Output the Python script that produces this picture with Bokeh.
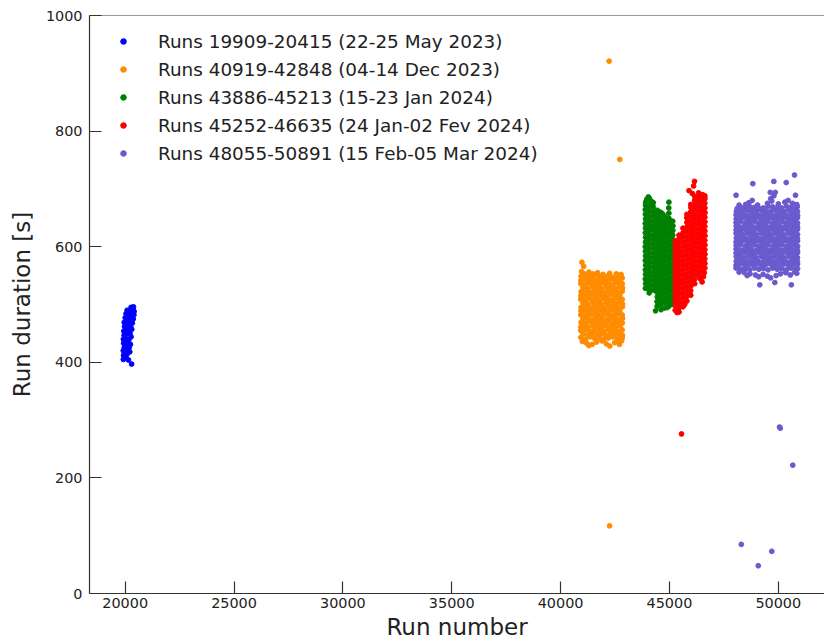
from bokeh.plotting import figure
from bokeh.models import Span, Legend, LegendItem
from bokeh.embed import file_html
from bokeh.resources import INLINE

SERIES_LABELS = [
    "Runs 19909-20415 (22-25 May 2023)",
    "Runs 40919-42848 (04-14 Dec 2023)",
    "Runs 43886-45213 (15-23 Jan 2024)",
    "Runs 45252-46635 (24 Jan-02 Fev 2024)",
    "Runs 48055-50891 (15 Feb-05 Mar 2024)",
]
SERIES_COLORS = ["#0000ff", "#ff8c00", "#008000", "#ff0000", "#6a5acd"]
X_TICKS = [20000, 25000, 30000, 35000, 40000, 45000, 50000]
Y_TICKS = [0, 200, 400, 600, 800, 1000]

# (run number, run duration [s])
BLUE = [
    (19915, 405), (20040, 408), (20150, 404), (19925, 412), (20080, 414), (19990, 417),
    (19912, 420), (20130, 421), (20210, 418), (19960, 426), (20060, 428), (20180, 425),
    (19930, 433), (20110, 435), (20240, 431), (19918, 440), (20010, 441), (20170, 439),
    (20270, 444), (19950, 447), (20080, 449), (20220, 450), (19935, 454), (20040, 456),
    (20150, 455), (20300, 457), (19970, 462), (20100, 463), (20250, 462), (19955, 469),
    (20060, 470), (20190, 471), (20330, 468), (20000, 477), (20130, 476), (20280, 478),
    (20370, 475), (20040, 484), (20170, 483), (20310, 485), (20400, 482), (20090, 490),
    (20230, 489), (20360, 491), (20410, 488), (20270, 495), (20380, 496), (20340, 493),
    (20295, 397),
]

ORANGE = [
    (40930, 443), (41150, 440), (41360, 444), (41570, 441), (41770, 443), (41990, 440), (42200, 442), (42400, 444), (42610, 441), (42830, 442),
    (41030, 449), (41250, 447), (41460, 450), (41670, 448), (41880, 449), (42090, 447), (42300, 450), (42510, 448), (42720, 449), (42840, 447),
    (40925, 455), (41140, 456), (41350, 454), (41560, 456), (41780, 455), (41980, 454), (42190, 456), (42410, 455), (42620, 454), (42830, 456),
    (41040, 462), (41240, 461), (41450, 463), (41660, 462), (41870, 461), (42080, 463), (42310, 462), (42520, 461), (42730, 463), (40930, 461),
    (40940, 469), (41150, 468), (41360, 470), (41570, 468), (41780, 469), (42000, 468), (42200, 470), (42420, 468), (42630, 469), (42835, 468),
    (41030, 475), (41250, 476), (41460, 474), (41670, 476), (41880, 475), (42090, 474), (42300, 476), (42510, 475), (42720, 474), (42845, 476),
    (40925, 482), (41140, 481), (41350, 483), (41560, 482), (41770, 481), (41990, 483), (42200, 482), (42410, 481), (42620, 483), (42830, 482),
    (41040, 489), (41250, 488), (41450, 490), (41660, 488), (41880, 489), (42080, 488), (42300, 490), (42510, 488), (42720, 489), (40935, 489),
    (40940, 495), (41150, 496), (41360, 494), (41570, 496), (41780, 495), (41990, 494), (42200, 496), (42410, 495), (42630, 494), (42840, 496),
    (41030, 502), (41240, 501), (41460, 503), (41670, 502), (41870, 501), (42090, 503), (42300, 502), (42520, 501), (42720, 503), (42845, 501),
    (40925, 509), (41140, 508), (41350, 510), (41560, 509), (41780, 508), (41990, 510), (42200, 509), (42410, 508), (42620, 510), (42830, 509),
    (41040, 516), (41250, 515), (41450, 517), (41660, 515), (41880, 516), (42090, 515), (42300, 517), (42510, 515), (42720, 516), (40930, 515),
    (40940, 522), (41150, 523), (41360, 521), (41570, 523), (41780, 522), (41990, 521), (42200, 523), (42410, 522), (42630, 521), (42835, 523),
    (41030, 529), (41240, 528), (41460, 530), (41670, 529), (41870, 528), (42090, 530), (42300, 529), (42520, 528), (42720, 530), (42845, 529),
    (40925, 536), (41140, 535), (41350, 537), (41560, 536), (41780, 535), (41990, 537), (42200, 536), (42410, 535), (42620, 537), (42830, 536),
    (41040, 543), (41250, 542), (41450, 544), (41660, 542), (41880, 543), (42080, 542), (42300, 544), (42510, 542), (42720, 543), (40935, 542),
    (40940, 549), (41150, 550), (41360, 547), (41560, 551), (41780, 548), (42000, 546), (42190, 550), (42410, 547), (42640, 549), (42830, 546),
    (41050, 554), (41300, 556), (41480, 553), (41700, 555), (41950, 552), (42250, 554), (42560, 553), (42780, 552), (40960, 557),
    (41000, 436), (41200, 433), (41450, 431), (41650, 435), (41900, 437), (42100, 432), (42260, 428), (42480, 434), (42700, 431), (42800, 437),
    (41300, 429), (42600, 437),
    (40980, 573), (41060, 566), (42230, 921), (42720, 751), (42250, 117),
]

GREEN = [
    (43895, 528), (43905, 536), (43890, 544), (43900, 552), (43893, 560), (43908, 568), (43890, 576), (43902, 584), (43895, 592), (43888, 600),
    (43900, 608), (43905, 616), (43892, 624), (43898, 632), (43890, 640), (43904, 648), (43896, 656), (43890, 664), (43900, 672), (43910, 677),
    (44070, 520), (44080, 524), (44068, 532), (44075, 540), (44085, 548), (44072, 556), (44078, 564), (44070, 572), (44082, 580), (44075, 588),
    (44068, 596), (44080, 604), (44074, 612), (44079, 620), (44070, 628), (44083, 636), (44076, 644), (44071, 652), (44080, 660), (44073, 668),
    (44078, 676), (44070, 684),
    (44255, 525), (44250, 533), (44262, 541), (44248, 549), (44258, 557), (44252, 565), (44260, 573), (44250, 581), (44256, 589), (44262, 597),
    (44249, 605), (44255, 613), (44260, 621), (44252, 629), (44258, 637), (44250, 645), (44255, 653), (44262, 661), (44250, 669), (44258, 676),
    (44435, 497), (44430, 505), (44442, 513), (44428, 521), (44438, 529), (44432, 537), (44440, 545), (44430, 553), (44436, 561), (44442, 569),
    (44429, 577), (44435, 585), (44440, 593), (44432, 601), (44438, 609), (44430, 617), (44435, 625), (44442, 633), (44430, 641), (44438, 649),
    (44433, 657), (44436, 663),
    (44615, 491), (44610, 500), (44622, 508), (44608, 516), (44618, 524), (44612, 532), (44620, 540), (44610, 548), (44616, 556), (44622, 564),
    (44609, 572), (44615, 580), (44620, 588), (44612, 596), (44618, 604), (44610, 612), (44615, 620), (44622, 628), (44610, 636), (44618, 644),
    (44613, 652), (44616, 659),
    (44795, 494), (44790, 503), (44802, 511), (44788, 519), (44798, 527), (44792, 535), (44800, 543), (44790, 551), (44796, 559), (44802, 567),
    (44789, 575), (44795, 583), (44800, 591), (44792, 599), (44798, 607), (44790, 615), (44795, 623), (44802, 631), (44790, 639), (44798, 647),
    (44793, 652),
    (44975, 497), (44970, 505), (44982, 513), (44968, 521), (44978, 529), (44972, 537), (44980, 545), (44970, 553), (44976, 561), (44982, 569),
    (44969, 577), (44975, 585), (44980, 593), (44972, 601), (44978, 609), (44970, 617), (44975, 625), (44982, 633), (44970, 641), (44978, 649),
    (44973, 658), (44968, 667), (44975, 677),
    (45155, 500), (45150, 508), (45162, 516), (45148, 524), (45158, 532), (45152, 540), (45160, 548), (45150, 556), (45156, 564), (45162, 572),
    (45149, 580), (45155, 588), (45160, 596), (45152, 604), (45158, 612), (45150, 620), (45155, 628), (45162, 636), (45150, 644),
    (44360, 489), (44900, 495), (43960, 682), (44160, 679), (44030, 686), (44700, 656), (44500, 661),
]

RED = [
    (45265, 490), (45270, 498), (45260, 506), (45268, 514), (45262, 522), (45272, 530), (45260, 538), (45266, 546), (45270, 554), (45262, 562),
    (45268, 570), (45260, 578), (45265, 586), (45272, 594), (45262, 602), (45268, 610),
    (45440, 487), (45435, 494), (45445, 502), (45438, 510), (45442, 518), (45436, 526), (45444, 534), (45440, 542), (45436, 550), (45445, 558),
    (45438, 566), (45442, 574), (45436, 582), (45444, 590), (45440, 598), (45437, 606), (45443, 614), (45440, 620),
    (45620, 496), (45615, 504), (45625, 512), (45618, 520), (45622, 528), (45616, 536), (45624, 544), (45620, 552), (45616, 560), (45625, 568),
    (45618, 576), (45622, 584), (45616, 592), (45624, 600), (45620, 608), (45617, 616), (45623, 624), (45620, 632),
    (45800, 506), (45795, 514), (45805, 522), (45798, 530), (45802, 538), (45796, 546), (45804, 554), (45800, 562), (45796, 570), (45805, 578),
    (45798, 586), (45802, 594), (45796, 602), (45804, 610), (45800, 618), (45797, 626), (45803, 634), (45800, 642), (45796, 650), (45802, 656),
    (45980, 516), (45975, 524), (45985, 532), (45978, 540), (45982, 548), (45976, 556), (45984, 564), (45980, 572), (45976, 580), (45985, 588),
    (45978, 596), (45982, 604), (45976, 612), (45984, 620), (45980, 628), (45977, 636), (45983, 644), (45980, 652), (45976, 660), (45982, 668),
    (45979, 673),
    (46160, 536), (46155, 544), (46165, 552), (46158, 560), (46162, 568), (46156, 576), (46164, 584), (46160, 592), (46156, 600), (46165, 608),
    (46158, 616), (46162, 624), (46156, 632), (46164, 640), (46160, 648), (46157, 656), (46163, 664), (46160, 672), (46156, 680), (46162, 687),
    (46340, 550), (46335, 558), (46345, 566), (46338, 574), (46342, 582), (46336, 590), (46344, 598), (46340, 606), (46336, 614), (46345, 622),
    (46338, 630), (46342, 638), (46336, 646), (46344, 654), (46340, 662), (46337, 670), (46343, 678), (46340, 686), (46336, 693),
    (46520, 556), (46515, 564), (46525, 572), (46518, 580), (46522, 588), (46516, 596), (46524, 604), (46520, 612), (46516, 620), (46525, 628),
    (46518, 636), (46522, 644), (46516, 652), (46524, 660), (46520, 668), (46517, 676), (46523, 684), (46520, 690),
    (46628, 563), (46630, 571), (46625, 579), (46632, 587), (46627, 595), (46630, 603), (46626, 611), (46632, 619), (46628, 627), (46625, 635),
    (46630, 643), (46627, 651), (46632, 659), (46628, 667), (46625, 675), (46630, 683), (46628, 688),
    (46150, 713), (45900, 697), (46110, 705), (46500, 539), (46560, 548), (45350, 486), (45700, 500), (46400, 545), (46600, 555),
    (46050, 692), (45554, 276),
]

PURPLE = [
    (48060, 563), (48270, 561), (48480, 562), (48690, 560), (48900, 563), (49110, 561), (49320, 562), (49530, 560), (49740, 563), (49950, 561), (50160, 562), (50370, 560), (50580, 563), (50790, 561), (50885, 562),
    (48060, 568), (48165, 569), (48375, 570), (48585, 568), (48795, 569), (49005, 570), (49215, 568), (49425, 569), (49635, 570), (49845, 568), (50055, 569), (50265, 570), (50475, 568), (50685, 569), (50885, 570),
    (48070, 575), (48260, 576), (48490, 574), (48680, 575), (48910, 576), (49100, 574), (49330, 575), (49520, 576), (49750, 574), (49940, 575), (50170, 576), (50360, 574), (50590, 575), (50780, 576), (50880, 574),
    (48065, 583), (48170, 582), (48380, 581), (48580, 583), (48800, 582), (49000, 581), (49220, 583), (49420, 582), (49640, 581), (49840, 583), (50060, 582), (50260, 581), (50480, 583), (50680, 582), (50880, 581),
    (48060, 589), (48275, 588), (48475, 590), (48695, 589), (48895, 588), (49115, 590), (49315, 589), (49535, 588), (49735, 590), (49955, 589), (50155, 588), (50375, 590), (50575, 589), (50795, 588), (50885, 590),
    (48060, 596), (48160, 595), (48370, 594), (48590, 596), (48790, 595), (49010, 594), (49210, 596), (49430, 595), (49630, 594), (49850, 596), (50050, 595), (50270, 594), (50470, 596), (50690, 595), (50880, 594),
    (48065, 602), (48265, 603), (48485, 601), (48685, 602), (48905, 603), (49105, 601), (49325, 602), (49525, 603), (49745, 601), (49945, 602), (50165, 603), (50365, 601), (50585, 602), (50785, 603), (50885, 601),
    (48060, 608), (48170, 609), (48375, 610), (48580, 608), (48795, 609), (49000, 610), (49215, 608), (49420, 609), (49635, 610), (49840, 608), (50055, 609), (50260, 610), (50475, 608), (50680, 609), (50885, 610),
    (48070, 615), (48270, 616), (48480, 614), (48690, 615), (48900, 616), (49110, 614), (49320, 615), (49530, 616), (49740, 614), (49950, 615), (50160, 616), (50370, 614), (50580, 615), (50790, 616), (50880, 614),
    (48060, 623), (48165, 622), (48380, 621), (48585, 623), (48800, 622), (49005, 621), (49220, 623), (49425, 622), (49640, 621), (49845, 623), (50060, 622), (50265, 621), (50480, 623), (50685, 622), (50885, 621),
    (48060, 629), (48275, 628), (48475, 630), (48695, 629), (48895, 628), (49115, 630), (49315, 629), (49535, 628), (49735, 630), (49955, 629), (50155, 628), (50375, 630), (50575, 629), (50795, 628), (50880, 630),
    (48065, 636), (48160, 635), (48370, 634), (48590, 636), (48790, 635), (49010, 634), (49210, 636), (49430, 635), (49630, 634), (49850, 636), (50050, 635), (50270, 634), (50470, 636), (50690, 635), (50885, 634),
    (48060, 642), (48265, 643), (48485, 641), (48685, 642), (48905, 643), (49105, 641), (49325, 642), (49525, 643), (49745, 641), (49945, 642), (50165, 643), (50365, 641), (50585, 642), (50785, 643), (50885, 641),
    (48065, 648), (48170, 649), (48375, 650), (48580, 648), (48795, 649), (49000, 650), (49215, 648), (49420, 649), (49635, 650), (49840, 648), (50055, 649), (50260, 650), (50475, 648), (50680, 649), (50880, 650),
    (48060, 655), (48270, 656), (48480, 654), (48690, 655), (48900, 656), (49110, 654), (49320, 655), (49530, 656), (49740, 654), (49950, 655), (50160, 656), (50370, 654), (50580, 655), (50790, 656), (50885, 654),
    (48075, 661), (48165, 662), (48380, 661), (48585, 663), (48800, 662), (49005, 661), (49220, 663), (49425, 662), (49640, 661), (49845, 663), (50060, 662), (50265, 661), (50480, 663), (50685, 662), (50880, 661),
    (48110, 666), (48275, 668), (48475, 667), (48695, 669), (48895, 668), (49115, 666), (49315, 667), (49535, 670), (49735, 669), (49955, 668), (50155, 667), (50375, 670), (50575, 668), (50795, 667), (50870, 669),
    (48500, 673), (48650, 676), (48800, 680), (49050, 672), (49500, 675), (49650, 683), (49800, 688), (49700, 679), (50000, 674), (50300, 677),
    (50450, 680), (50650, 675), (50850, 673), (48200, 672),
    (48060, 689), (48830, 709), (49630, 694), (49860, 694), (49795, 713), (50365, 711), (50745, 724), (50790, 689),
    (48200, 556), (48450, 555), (48700, 553), (48950, 551), (49100, 548), (49300, 552), (49500, 549), (49650, 546), (49900, 550), (50100, 553),
    (50350, 555), (50550, 551), (50750, 556), (50850, 554), (48570, 550),
    (49150, 534), (50600, 534), (49840, 538), (50330, 556),
    (50055, 288), (50090, 286), (50665, 222), (48300, 85), (49700, 73), (49080, 48),
]

FONT = "DejaVu Sans"
AXIS_COLOR = "#333333"
TEXT_COLOR = "#222222"

p = figure(width=824, height=644, output_backend="svg", toolbar_location=None,
           x_range=(18360, 52122), y_range=(0, 1000),
           min_border_left=89, min_border_right=0, min_border_top=15, min_border_bottom=51,
           x_axis_label="Run number", y_axis_label="Run duration [s]")
p.grid.visible = False
p.outline_line_color = None
p.background_fill_color = "white"
p.border_fill_color = "white"

renderers = []
for pts, col in zip([BLUE, ORANGE, GREEN, RED, PURPLE], SERIES_COLORS):
    xs = [a for a, b in pts]
    ys = [b for a, b in pts]
    r = p.scatter(xs, ys, size=4.8, fill_color=col, line_color=col, line_width=1)
    renderers.append(r)

legend = Legend(items=[LegendItem(label=l, renderers=[r]) for l, r in zip(SERIES_LABELS, renderers)],
                location=(17, 419), orientation="vertical",
                glyph_width=14, glyph_height=22, label_height=22, label_standoff=28,
                spacing=6, padding=10, margin=0,
                label_text_font=FONT, label_text_font_size="18.4px", label_text_color=TEXT_COLOR,
                background_fill_alpha=0, border_line_alpha=0)
p.add_layout(legend)

p.add_layout(Span(location=1000, dimension="width", line_color=AXIS_COLOR, line_width=1.2))

p.xaxis.ticker = X_TICKS
p.yaxis.ticker = Y_TICKS
for ax in (p.xaxis[0], p.yaxis[0]):
    ax.major_tick_in = 12
    ax.major_tick_out = 0
    ax.minor_tick_line_color = None
    ax.axis_line_color = AXIS_COLOR
    ax.axis_line_width = 1.2
    ax.major_tick_line_color = AXIS_COLOR
    ax.major_tick_line_width = 1.2
    ax.major_label_text_font = FONT
    ax.major_label_text_font_size = "14.4px"
    ax.major_label_text_color = TEXT_COLOR
    ax.axis_label_text_font = FONT
    ax.axis_label_text_font_size = "23px"
    ax.axis_label_text_font_style = "normal"
    ax.axis_label_text_color = TEXT_COLOR
p.xaxis.major_label_standoff = 4
p.xaxis.axis_label_standoff = 3
p.yaxis.major_label_standoff = 7
p.yaxis.axis_label_standoff = 8

open("out.html", "w").write(file_html(p, INLINE))
